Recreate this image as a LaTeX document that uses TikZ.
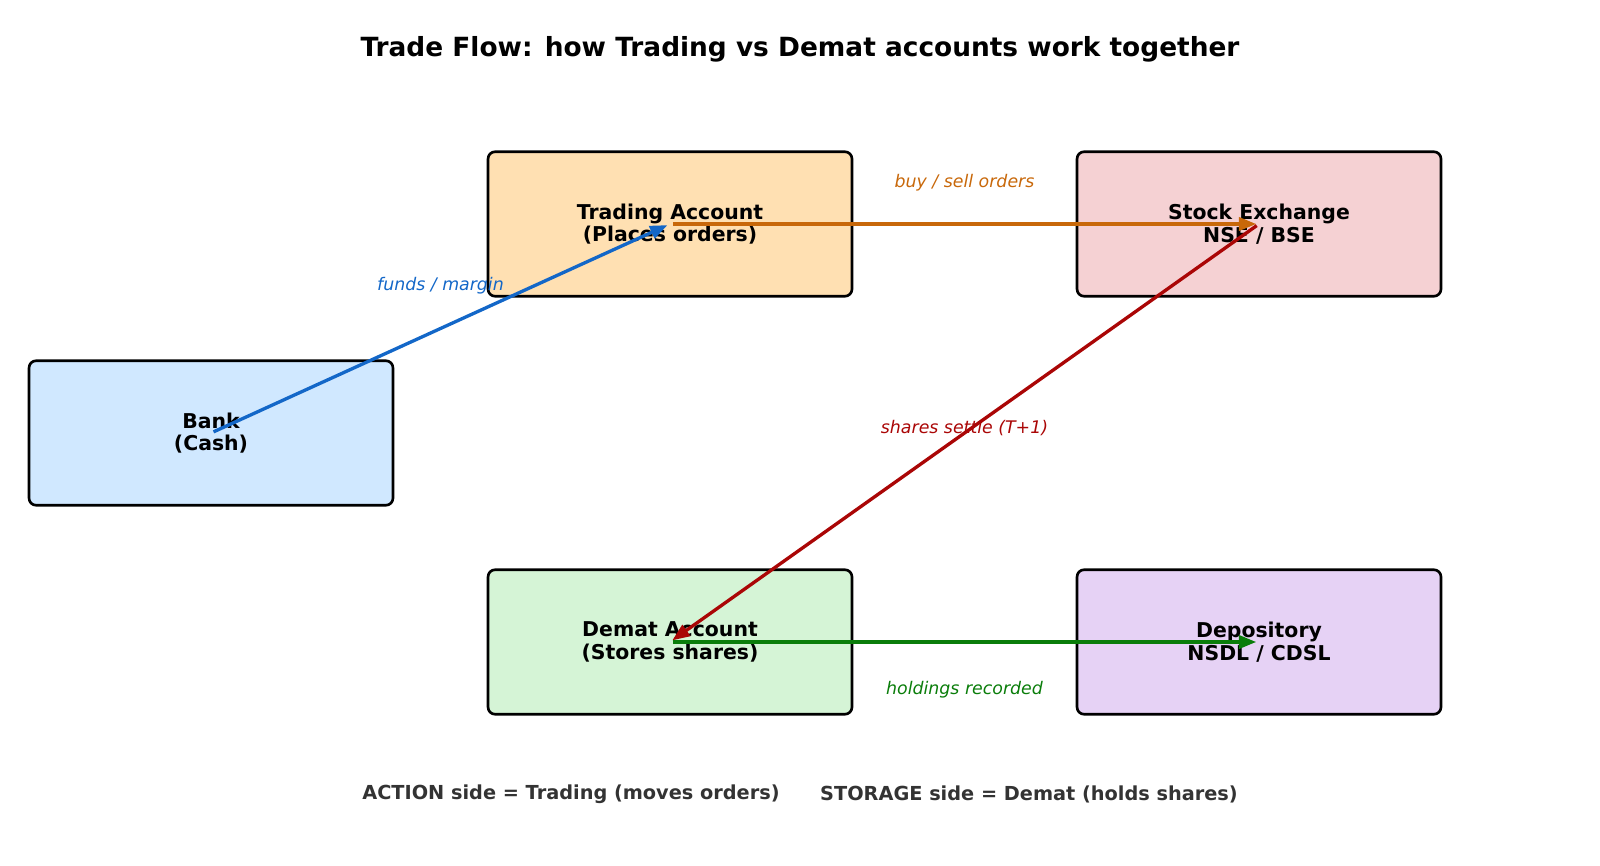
\documentclass[tikz,border=0pt]{standalone}
\usepackage{fontspec}
\setmainfont{DejaVu Sans}
\usepackage{tikz}
\usetikzlibrary{arrows.meta,positioning}
\definecolor{bankfill}{HTML}{D0E8FF}
\definecolor{tradefill}{HTML}{FFE0B2}
\definecolor{exchfill}{HTML}{F5D1D3}
\definecolor{dematfill}{HTML}{D5F4D6}
\definecolor{depofill}{HTML}{E6D2F5}
\definecolor{fundsblue}{HTML}{1367C8}
\definecolor{orderorange}{HTML}{C8680A}
\definecolor{settlered}{HTML}{AA0606}
\definecolor{holdgreen}{HTML}{0A7D0A}
\definecolor{notegray}{HTML}{333333}

\begin{document}
\begin{tikzpicture}[x=0.72pt,y=-0.72pt,
  acct/.style={draw=black,line width=1.9pt,rounded corners=5pt,minimum width=262pt,minimum height=104pt,
    align=center,font=\fontsize{14.7}{16.4}\selectfont\bfseries},
  flow/.style={line width=2.4pt,-{Triangle[length=12.5pt,width=9.5pt]},shorten <=2pt,shorten >=2pt},
  flowlbl/.style={font=\fontsize{12.5}{15}\selectfont\itshape}]
  \useasboundingbox (0,0) rectangle (1600,866);
  \node[font=\fontsize{19}{23}\selectfont\bfseries] (title) at (800,49) {Trade Flow: how Trading vs Demat accounts work together};
  % the five places
  \node[acct,fill=bankfill] (bank) at (211,433) {Bank\\(Cash)};
  \node[acct,fill=tradefill] (trading) at (670,224) {Trading Account\\(Places orders)};
  \node[acct,fill=exchfill] (exchange) at (1259,224) {Stock Exchange\\NSE / BSE};
  \node[acct,fill=dematfill] (demat) at (670,642) {Demat Account\\(Stores shares)};
  \node[acct,fill=depofill] (depository) at (1259,642) {Depository\\NSDL / CDSL};
  % flows between them
  \draw[flow,fundsblue] (bank.center) -- (trading.center)
    node[midway,flowlbl,text=fundsblue,yshift=31pt] (fundslbl) {funds / margin};
  \draw[flow,orderorange] (trading.center) -- (exchange.center)
    node[midway,flowlbl,text=orderorange,yshift=30pt] (orderlbl) {buy / sell orders};
  \draw[flow,settlered] (exchange.center) -- (demat.center)
    node[midway,flowlbl,text=settlered,yshift=3.5pt] (settlelbl) {shares settle (T+1)};
  \draw[flow,holdgreen] (demat.center) -- (depository.center)
    node[midway,flowlbl,text=holdgreen,yshift=-34pt] (holdlbl) {holdings recorded};
  \node[font=\fontsize{13.9}{16.7}\selectfont\bfseries,text=notegray] (actionnote) at (571,794) {ACTION side = Trading (moves orders)};
  \node[font=\fontsize{13.9}{16.7}\selectfont\bfseries,text=notegray] (storenote) at (1029,794) {STORAGE side = Demat (holds shares)};
\end{tikzpicture}
\end{document}
